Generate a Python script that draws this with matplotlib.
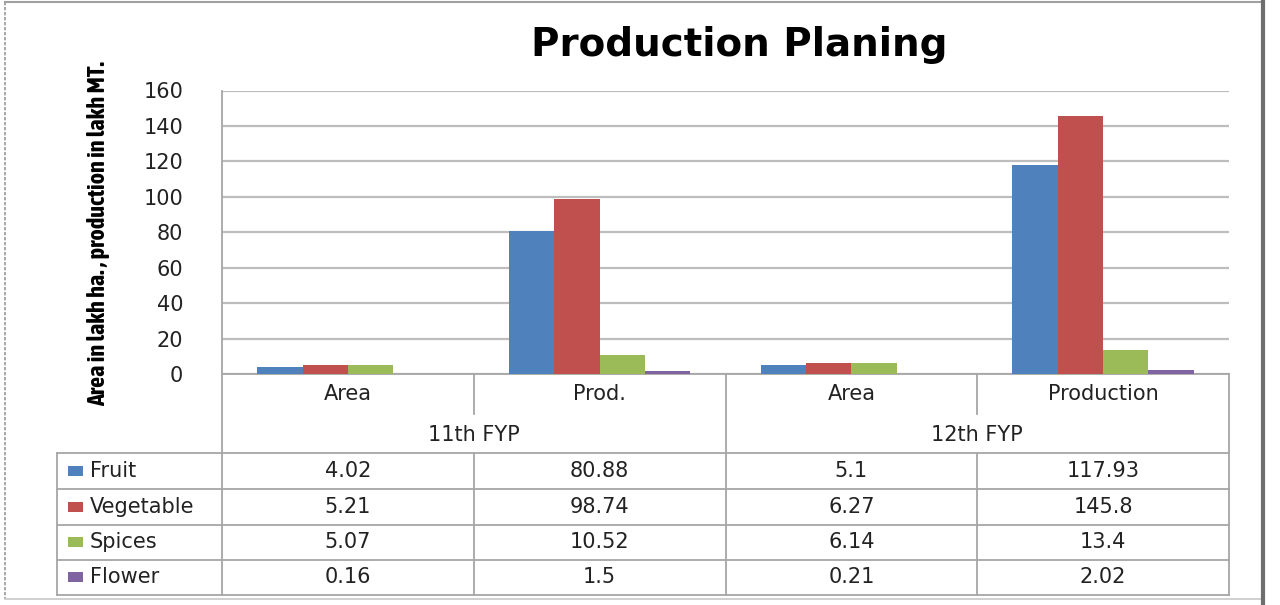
import matplotlib
matplotlib.use("Agg")
import matplotlib.pyplot as plt
from matplotlib.patches import Rectangle
from matplotlib.lines import Line2D
from matplotlib import font_manager
import numpy as np

categories = ["Area", "Prod.", "Area", "Production"]
groups = ["11th FYP", "12th FYP"]
series_names = ["Fruit", "Vegetable", "Spices", "Flower"]
fruit = [4.02, 80.88, 5.1, 117.93]
vegetable = [5.21, 98.74, 6.27, 145.8]
spices = [5.07, 10.52, 6.14, 13.4]
flower = [0.16, 1.5, 0.21, 2.02]
value_labels = [
    ["4.02", "80.88", "5.1", "117.93"],
    ["5.21", "98.74", "6.27", "145.8"],
    ["5.07", "10.52", "6.14", "13.4"],
    ["0.16", "1.5", "0.21", "2.02"],
]
yticks = [0, 20, 40, 60, 80, 100, 120, 140, 160]
colors = ["#4F81BD", "#C0504D", "#9BBB59", "#8064A2"]

# look for a condensed family for the y-axis label
narrow_file = None
for f in font_manager.fontManager.ttflist:
    n = f.name.lower()
    if ("narrow" in n or "condensed" in n) and f.weight in (700, "bold"):
        narrow_file = f.fname
        break
if narrow_file is None:
    for f in font_manager.fontManager.ttflist:
        if f.stretch in ("condensed", "semi-condensed", "extra-condensed") and f.weight in (700, "bold"):
            narrow_file = f.fname
            break

W, H = 1280, 605
fig = plt.figure(figsize=(W / 100, H / 100), dpi=100)
fig.patch.set_facecolor("white")

PL, PR, PT, PB = 222, 1229, 90.5, 374
ax = fig.add_axes([PL / W, (H - PB) / H, (PR - PL) / W, (PB - PT) / H])

series = [fruit, vegetable, spices, flower]
x = np.arange(len(categories))
bw = 0.18
for i, (vals, c) in enumerate(zip(series, colors)):
    ax.bar(x + (i - 1.5) * bw, vals, width=bw, color=c, edgecolor="none", zorder=3)

ax.set_xlim(-0.5, len(categories) - 0.5)
ax.set_ylim(0, 160)
ax.set_yticks(yticks)
ax.set_yticklabels([str(t) for t in yticks], fontsize=15, color="#222222",
                   family="DejaVu Sans")
ax.tick_params(axis="y", length=0, pad=28)
ax.set_xticks([])
ax.yaxis.grid(True, color="#BDBDBD", linewidth=1.6, zorder=0)
ax.set_axisbelow(True)
for s in ["top", "right"]:
    ax.spines[s].set_visible(False)
ax.spines["left"].set_color("#A6A6A6")
ax.spines["left"].set_linewidth(1.3)
ax.spines["bottom"].set_color("#A6A6A6")
ax.spines["bottom"].set_linewidth(1.3)

fig.text(739 / W, 1 - 45 / H, "Production Planing", ha="center", va="center",
         fontsize=28, fontweight="bold", family="DejaVu Sans", color="black")

ylabel = "Area in lakh ha. , production in lakh MT."
if narrow_file is not None:
    fp = font_manager.FontProperties(fname=narrow_file, size=17.5)
    fig.text(99 / W, 1 - 234 / H, ylabel, rotation=90, ha="center", va="center",
             fontproperties=fp, color="black")
else:
    fig.text(99 / W, 1 - 234 / H, ylabel, rotation=90, ha="center", va="center",
             fontsize=11.5, fontweight="bold", family="DejaVu Sans", color="black")

tr = ax.get_xaxis_transform()


def ya(py):
    return (PB - py) / (PB - PT)


def xd(px):
    return -0.5 + (px - PL) / ((PR - PL) / len(categories))


line_kw = dict(color="#A6A6A6", linewidth=1.3, transform=tr, clip_on=False)
xl_table = xd(57)
row_lines = [452.5, 489, 524.5, 559.5, 595]

ax.add_line(Line2D([-0.5, -0.5], [ya(PB), ya(595)], **line_kw))
ax.add_line(Line2D([3.5, 3.5], [ya(PB), ya(595)], **line_kw))
ax.add_line(Line2D([1.5, 1.5], [ya(PB), ya(595)], **line_kw))
for xv in [0.5, 2.5]:
    ax.add_line(Line2D([xv, xv], [ya(PB), ya(414)], **line_kw))
    ax.add_line(Line2D([xv, xv], [ya(452.5), ya(595)], **line_kw))
for py in row_lines:
    ax.add_line(Line2D([xl_table, 3.5], [ya(py), ya(py)], **line_kw))
ax.add_line(Line2D([xl_table, xl_table], [ya(452.5), ya(595)], **line_kw))

txt_kw = dict(transform=tr, ha="center", va="center", fontsize=15,
              color="#222222", family="DejaVu Sans", clip_on=False)
for i, cat in enumerate(categories):
    ax.text(x[i], ya(394), cat, **txt_kw)
for g, gname in enumerate(groups):
    ax.text(0.5 + 2 * g, ya(435), gname, **txt_kw)

for r, (name, c) in enumerate(zip(series_names, colors)):
    yc = (row_lines[r] + row_lines[r + 1]) / 2
    ax.add_patch(Rectangle((xd(68), ya(yc + 5)), xd(83) - xd(68), ya(yc - 5) - ya(yc + 5),
                           facecolor=c, edgecolor="none", transform=tr, clip_on=False))
    ax.text(xd(90), ya(yc), name, transform=tr, ha="left", va="center", fontsize=15,
            color="#222222", family="DejaVu Sans", clip_on=False)
    for j in range(len(categories)):
        ax.text(x[j], ya(yc), value_labels[r][j], **txt_kw)

fig.add_artist(Line2D([5 / W, 5 / W], [1 - 2 / H, 1 - 599 / H], color="#9A9A9A",
                      linewidth=1.2, linestyle=(0, (2, 1)), transform=fig.transFigure))
fig.add_artist(Line2D([5 / W, 1263 / W], [1 - 2 / H, 1 - 2 / H], color="#A0A0A0",
                      linewidth=1.5, transform=fig.transFigure))
fig.add_artist(Line2D([5 / W, 1263 / W], [1 - 599 / H, 1 - 599 / H], color="#C8C8C8",
                      linewidth=1.2, transform=fig.transFigure))
fig.add_artist(Line2D([1263 / W, 1263 / W], [1.0, 0.0], color="#6E6E6E",
                      linewidth=3, transform=fig.transFigure))

fig.savefig("out.png", dpi=100, facecolor="white")
